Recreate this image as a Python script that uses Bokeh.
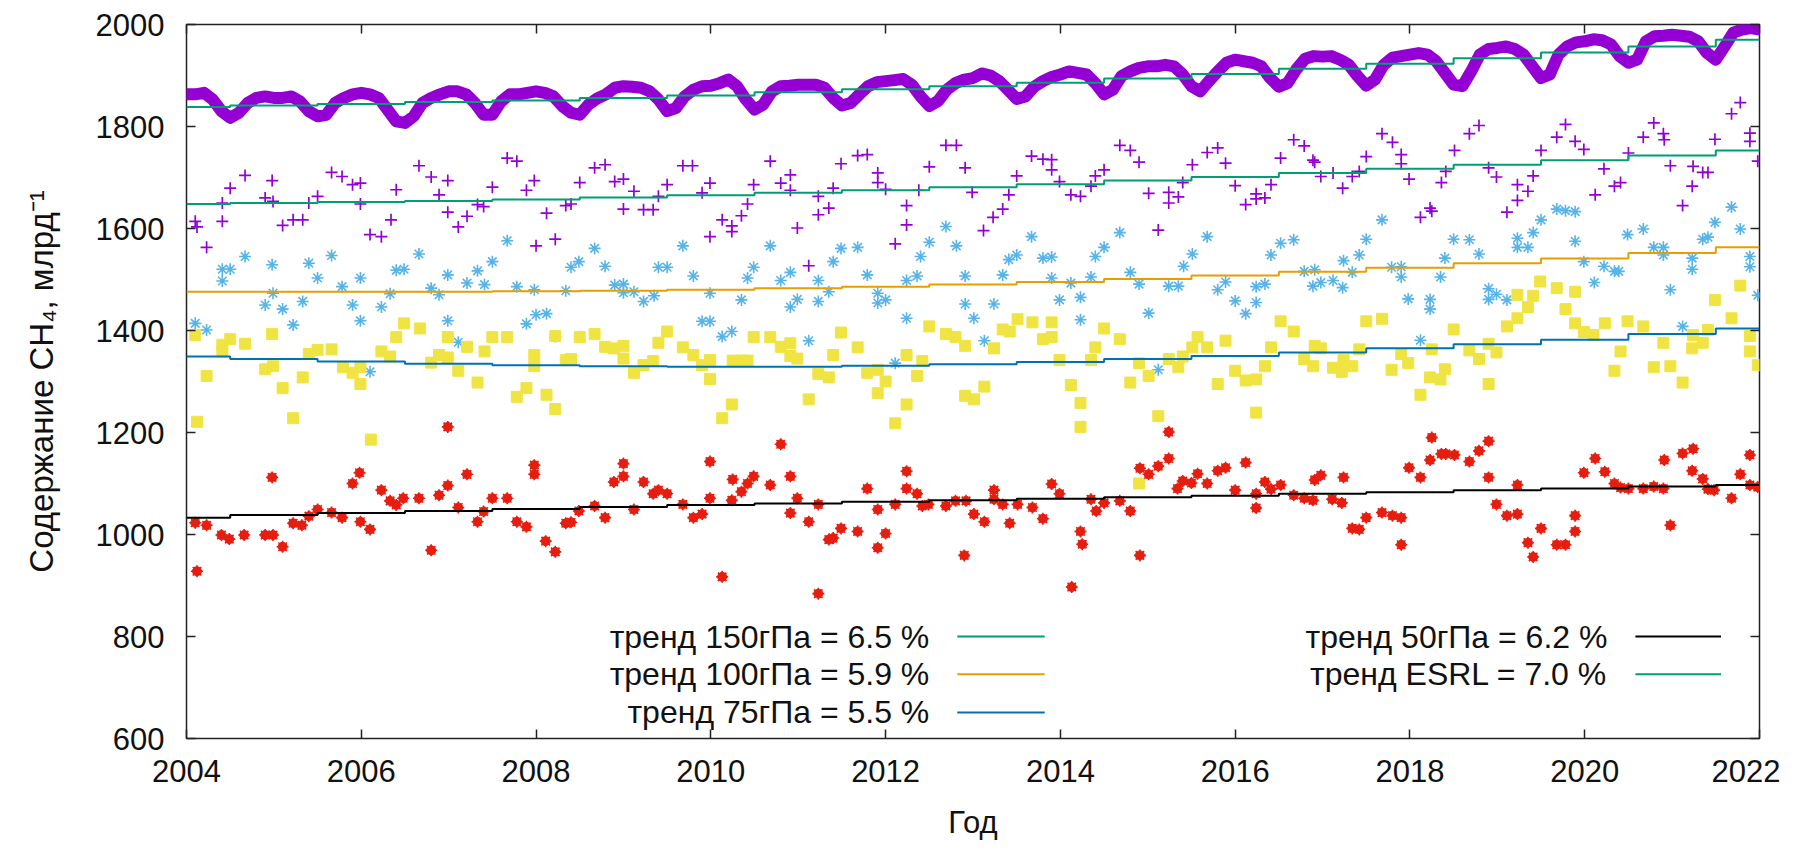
from bokeh.plotting import figure
from bokeh.models import LinearAxis, FixedTicker, Range1d
from bokeh.core.properties import value
from bokeh.embed import file_html
from bokeh.resources import INLINE

FONT = "Liberation Sans"

# ---------------- data ----------------
# ESRL surface CH4 (thick purple band)
esrl_year = [2004 + i / 10 for i in range(181)]
esrl_val = [
    1863, 1863, 1866, 1853, 1830, 1817, 1827, 1846, 1856, 1859,
    1856, 1856, 1859, 1849, 1830, 1820, 1823, 1846, 1856, 1863,
    1866, 1863, 1856, 1833, 1810, 1807, 1820, 1846, 1856, 1863,
    1869, 1869, 1863, 1846, 1823, 1823, 1849, 1863, 1863, 1866,
    1869, 1866, 1859, 1840, 1827, 1823, 1843, 1855, 1863, 1876,
    1879, 1878, 1876, 1869, 1853, 1830, 1836, 1859, 1872, 1879,
    1880, 1885, 1892, 1879, 1853, 1833, 1843, 1869, 1879, 1880,
    1882, 1882, 1882, 1876, 1856, 1841, 1846, 1863, 1879, 1887,
    1889, 1891, 1893, 1882, 1859, 1840, 1850, 1872, 1885, 1892,
    1895, 1904, 1900, 1889, 1872, 1854, 1859, 1878, 1889, 1897,
    1902, 1908, 1905, 1902, 1885, 1863, 1872, 1899, 1908, 1915,
    1918, 1918, 1921, 1918, 1902, 1879, 1869, 1889, 1908, 1925,
    1931, 1928, 1925, 1918, 1895, 1878, 1885, 1912, 1933, 1938,
    1937, 1938, 1931, 1921, 1899, 1880, 1892, 1921, 1935, 1938,
    1941, 1944, 1941, 1928, 1905, 1882, 1879, 1908, 1941, 1952,
    1954, 1957, 1952, 1941, 1918, 1895, 1902, 1941, 1957, 1965,
    1967, 1971, 1969, 1961, 1938, 1925, 1931, 1967, 1977, 1978,
    1980, 1978, 1976, 1967, 1944, 1931, 1957, 1984, 1990, 1993,
    1990,
]

# 150 hPa (purple +)
t150 = [2004.10, 2004.12, 2004.23, 2004.41, 2004.41, 2004.50, 2004.67, 2004.90, 2004.98, 2004.99,
        2005.10, 2005.22, 2005.33, 2005.40, 2005.50, 2005.66, 2005.78, 2005.90, 2005.99, 2005.99,
        2006.10, 2006.23, 2006.34, 2006.40, 2006.66, 2006.80, 2006.89, 2006.99, 2006.99,
        2007.11, 2007.21, 2007.33, 2007.40, 2007.50, 2007.67, 2007.78, 2007.89, 2007.98,
        2008.00, 2008.12, 2008.22, 2008.34, 2008.40, 2008.50, 2008.67, 2008.79, 2008.90,
        2009.00, 2009.00, 2009.12, 2009.23, 2009.34, 2009.40, 2009.50, 2009.68, 2009.79, 2009.90, 2009.99, 2009.99,
        2010.13, 2010.24, 2010.24, 2010.35, 2010.42, 2010.49, 2010.68, 2010.80, 2010.91, 2010.91, 2010.99,
        2011.12, 2011.23, 2011.23, 2011.35, 2011.40, 2011.49, 2011.68, 2011.79, 2011.91, 2011.91,
        2012.00, 2012.11, 2012.24, 2012.24, 2012.38, 2012.50, 2012.69, 2012.81, 2012.91, 2012.99,
        2013.12, 2013.23, 2013.34, 2013.41, 2013.50, 2013.67, 2013.80, 2013.90, 2013.90, 2013.99,
        2014.12, 2014.23, 2014.35, 2014.40, 2014.50, 2014.68, 2014.80, 2014.90,
        2015.01, 2015.12, 2015.24, 2015.24, 2015.35, 2015.40, 2015.51, 2015.68, 2015.80, 2015.89,
        2016.00, 2016.12, 2016.24, 2016.24, 2016.34, 2016.41, 2016.52, 2016.67, 2016.79, 2016.89, 2016.91, 2016.98,
        2017.12, 2017.23, 2017.34, 2017.42, 2017.50, 2017.68, 2017.80, 2017.90, 2017.90, 2017.99,
        2018.12, 2018.23, 2018.25, 2018.36, 2018.41, 2018.51, 2018.68, 2018.79, 2018.90, 2018.99,
        2019.11, 2019.23, 2019.23, 2019.35, 2019.41, 2019.50, 2019.68, 2019.78, 2019.89, 2019.99,
        2020.12, 2020.22, 2020.34, 2020.41, 2020.50, 2020.67, 2020.79, 2020.90, 2020.91, 2020.98,
        2021.12, 2021.23, 2021.24, 2021.35, 2021.41, 2021.49, 2021.68, 2021.78, 2021.89, 2021.89, 2021.98]
v150 = [1614, 1603, 1563, 1650, 1614, 1679, 1704, 1660, 1694, 1653,
        1606, 1617, 1617, 1650, 1663, 1710, 1702, 1686, 1689, 1648,
        1588, 1584, 1617, 1676, 1723, 1701, 1666, 1694, 1632,
        1603, 1624, 1647, 1643, 1681, 1738, 1732, 1675, 1694,
        1566, 1630, 1579, 1645, 1648, 1690, 1719, 1725, 1692,
        1697, 1638, 1673, 1637, 1637, 1663, 1686, 1723, 1723, 1670, 1689, 1584,
        1617, 1605, 1594, 1625, 1648, 1686, 1732, 1689, 1705, 1675, 1601,
        1527, 1663, 1627, 1640, 1679, 1727, 1743, 1745, 1709, 1690,
        1677, 1570, 1607, 1645, 1675, 1721, 1763, 1763, 1719, 1671,
        1596, 1622, 1638, 1666, 1703, 1742, 1736, 1735, 1715, 1692,
        1666, 1663, 1683, 1703, 1715, 1763, 1753, 1730,
        1669, 1597, 1671, 1650, 1662, 1690, 1725, 1749, 1758, 1728,
        1684, 1647, 1658, 1668, 1660, 1686, 1738, 1774, 1762, 1734, 1730, 1702,
        1709, 1679, 1702, 1712, 1741, 1786, 1769, 1745, 1727, 1697,
        1622, 1640, 1634, 1690, 1712, 1753, 1786, 1802, 1719, 1701,
        1632, 1655, 1686, 1673, 1703, 1753, 1779, 1804, 1771, 1755,
        1666, 1717, 1683, 1690, 1748, 1779, 1807, 1786, 1774, 1723,
        1645, 1683, 1722, 1710, 1710, 1775, 1825, 1847, 1787, 1771, 1732]

# 100 hPa (sky-blue *)
t100 = [2004.10, 2004.23, 2004.41, 2004.41, 2004.50, 2004.67, 2004.90, 2004.98, 2004.99,
        2005.10, 2005.22, 2005.33, 2005.40, 2005.50, 2005.66, 2005.78, 2005.90, 2005.99, 2005.99,
        2006.10, 2006.23, 2006.33, 2006.40, 2006.49, 2006.66, 2006.80, 2006.89, 2006.99, 2006.99,
        2007.11, 2007.21, 2007.33, 2007.41, 2007.50, 2007.67, 2007.78, 2007.89, 2007.98,
        2008.00, 2008.12, 2008.22, 2008.34, 2008.40, 2008.49, 2008.67, 2008.79, 2008.90,
        2009.00, 2009.00, 2009.12, 2009.23, 2009.35, 2009.40, 2009.50, 2009.68, 2009.80, 2009.90, 2009.99, 2009.99,
        2010.13, 2010.24, 2010.35, 2010.42, 2010.49, 2010.68, 2010.80, 2010.91, 2010.91, 2010.99,
        2011.12, 2011.23, 2011.23, 2011.35, 2011.40, 2011.49, 2011.68, 2011.79, 2011.91, 2011.91,
        2012.00, 2012.11, 2012.24, 2012.24, 2012.36, 2012.40, 2012.50, 2012.69, 2012.81, 2012.91, 2012.91,
        2013.01, 2013.13, 2013.24, 2013.34, 2013.41, 2013.50, 2013.67, 2013.80, 2013.90, 2013.90, 2013.99,
        2014.12, 2014.23, 2014.23, 2014.35, 2014.40, 2014.50, 2014.68, 2014.80, 2014.90,
        2015.01, 2015.12, 2015.24, 2015.35, 2015.41, 2015.51, 2015.68, 2015.80, 2015.89,
        2016.00, 2016.12, 2016.24, 2016.24, 2016.34, 2016.41, 2016.52, 2016.67, 2016.79, 2016.89, 2016.91, 2016.98,
        2017.12, 2017.23, 2017.24, 2017.34, 2017.42, 2017.50, 2017.68, 2017.79, 2017.90, 2017.90, 2017.98,
        2018.12, 2018.23, 2018.23, 2018.35, 2018.40, 2018.50, 2018.68, 2018.79, 2018.90, 2018.90, 2018.99,
        2019.11, 2019.23, 2019.23, 2019.35, 2019.41, 2019.50, 2019.68, 2019.78, 2019.89, 2019.89, 2019.99,
        2020.11, 2020.22, 2020.34, 2020.39, 2020.49, 2020.67, 2020.79, 2020.90, 2020.90, 2020.98,
        2021.12, 2021.23, 2021.23, 2021.35, 2021.41, 2021.49, 2021.68, 2021.78, 2021.89, 2021.89, 2021.98]
v100 = [1414, 1401, 1520, 1497, 1520, 1545, 1450, 1529, 1473,
        1442, 1411, 1457, 1532, 1503, 1547, 1486, 1450, 1503, 1419,
        1319, 1446, 1472, 1518, 1520, 1550, 1483, 1470, 1509, 1419,
        1377, 1493, 1517, 1490, 1535, 1576, 1486, 1413, 1480,
        1431, 1433, 1388, 1478, 1524, 1535, 1561, 1526, 1489,
        1491, 1474, 1476, 1457, 1468, 1524, 1524, 1566, 1507, 1418, 1473, 1418,
        1388, 1398, 1460, 1503, 1524, 1566, 1498, 1514, 1446, 1461,
        1380, 1498, 1457, 1476, 1535, 1561, 1563, 1509, 1473, 1454,
        1460, 1336, 1498, 1424, 1507, 1545, 1573, 1604, 1566, 1507, 1452,
        1424, 1380, 1452, 1509, 1539, 1548, 1584, 1542, 1544, 1503, 1460,
        1493, 1465, 1421, 1505, 1545, 1563, 1592, 1514, 1491,
        1434, 1323, 1487, 1487, 1526, 1550, 1584, 1480, 1495,
        1458, 1433, 1486, 1455, 1491, 1548, 1571, 1578, 1516, 1487, 1519, 1494,
        1498, 1484, 1537, 1514, 1548, 1579, 1617, 1524, 1525, 1505, 1462,
        1381, 1461, 1442, 1505, 1542, 1579, 1578, 1550, 1482, 1461, 1471,
        1460, 1581, 1563, 1563, 1592, 1617, 1638, 1635, 1633, 1575, 1535,
        1494, 1526, 1516, 1516, 1588, 1599, 1563, 1563, 1548, 1480,
        1408, 1542, 1520, 1579, 1583, 1612, 1642, 1599, 1545, 1525, 1469]

# 75 hPa (yellow squares)
t75 = [2004.10, 2004.12, 2004.23, 2004.41, 2004.41, 2004.50, 2004.67, 2004.90, 2004.98, 2004.99,
       2005.10, 2005.22, 2005.33, 2005.40, 2005.50, 2005.66, 2005.79, 2005.90, 2005.99, 2005.99,
       2006.11, 2006.23, 2006.33, 2006.40, 2006.49, 2006.67, 2006.80, 2006.89, 2006.99, 2006.99,
       2007.11, 2007.21, 2007.33, 2007.41, 2007.50, 2007.67, 2007.78, 2007.89, 2007.98, 2007.98,
       2008.12, 2008.22, 2008.22, 2008.34, 2008.40, 2008.50, 2008.67, 2008.79, 2008.89,
       2009.00, 2009.00, 2009.12, 2009.23, 2009.34, 2009.40, 2009.50, 2009.68, 2009.80, 2009.90, 2009.99, 2009.99,
       2010.13, 2010.24, 2010.25, 2010.35, 2010.42, 2010.49, 2010.68, 2010.80, 2010.91, 2010.91, 2010.99,
       2011.12, 2011.23, 2011.35, 2011.40, 2011.49, 2011.68, 2011.79, 2011.91, 2011.91,
       2012.00, 2012.11, 2012.24, 2012.24, 2012.36, 2012.42, 2012.50, 2012.69, 2012.80, 2012.91, 2012.91,
       2013.01, 2013.13, 2013.24, 2013.34, 2013.42, 2013.51, 2013.68, 2013.80, 2013.90, 2013.90, 2013.99,
       2014.12, 2014.23, 2014.23, 2014.35, 2014.40, 2014.50, 2014.68, 2014.80, 2014.90, 2014.90,
       2015.01, 2015.12, 2015.24, 2015.35, 2015.40, 2015.51, 2015.57, 2015.68, 2015.80, 2015.89,
       2016.00, 2016.12, 2016.24, 2016.24, 2016.34, 2016.41, 2016.52, 2016.67, 2016.79, 2016.89, 2016.91, 2016.98,
       2017.12, 2017.22, 2017.24, 2017.34, 2017.42, 2017.50, 2017.68, 2017.79, 2017.90, 2017.98,
       2018.12, 2018.23, 2018.25, 2018.35, 2018.40, 2018.50, 2018.68, 2018.79, 2018.90, 2018.90, 2018.99,
       2019.11, 2019.23, 2019.23, 2019.35, 2019.41, 2019.49, 2019.68, 2019.78, 2019.89, 2019.89, 2019.99,
       2020.10, 2020.23, 2020.34, 2020.41, 2020.49, 2020.67, 2020.79, 2020.90, 2020.98,
       2021.12, 2021.23, 2021.24, 2021.35, 2021.41, 2021.49, 2021.68, 2021.78, 2021.89, 2021.89, 2021.98]
v75 = [1391, 1221, 1311, 1372, 1359, 1383, 1374, 1324, 1393, 1330,
       1287, 1228, 1308, 1354, 1362, 1363, 1328, 1317, 1328, 1295,
       1186, 1359, 1349, 1387, 1414, 1404, 1337, 1352, 1387, 1347,
       1321, 1368, 1298, 1359, 1387, 1387, 1270, 1287, 1352, 1330,
       1274, 1246, 1389, 1342, 1344, 1387, 1393, 1368, 1365,
       1370, 1345, 1317, 1332, 1340, 1376, 1398, 1367, 1352, 1332, 1342, 1305,
       1228, 1255, 1341, 1341, 1341, 1387, 1387, 1368, 1375, 1350, 1345,
       1265, 1315, 1308, 1352, 1396, 1367, 1317, 1277, 1323,
       1300, 1218, 1352, 1255, 1311, 1340, 1408, 1393, 1387, 1370, 1272,
       1265, 1290, 1365, 1402, 1398, 1422, 1416, 1383, 1416, 1387, 1342,
       1293, 1258, 1211, 1342, 1367, 1404, 1383, 1298, 1336, 1100,
       1311, 1232, 1344, 1328, 1349, 1367, 1387, 1367, 1295, 1380,
       1321, 1302, 1304, 1239, 1330, 1367, 1418, 1398, 1344, 1330, 1370, 1365,
       1327, 1319, 1342, 1330, 1363, 1418, 1423, 1323, 1354, 1336,
       1274, 1308, 1363, 1304, 1324, 1402, 1361, 1344, 1374, 1295, 1357,
       1408, 1424, 1470, 1446, 1468, 1496, 1483, 1442, 1414, 1476, 1397,
       1391, 1414, 1321, 1359, 1418, 1408, 1328, 1376, 1330,
       1298, 1365, 1391, 1376, 1401, 1460, 1424, 1488, 1389, 1359, 1332]

# 50 hPa (red dots)
t50 = [2004.10, 2004.12, 2004.23, 2004.40, 2004.49, 2004.66, 2004.90, 2004.98, 2004.99,
       2005.10, 2005.22, 2005.32, 2005.40, 2005.50, 2005.66, 2005.78, 2005.90, 2005.98, 2005.99,
       2006.10, 2006.23, 2006.33, 2006.40, 2006.48, 2006.66, 2006.80, 2006.89, 2006.99, 2006.99,
       2007.11, 2007.21, 2007.33, 2007.40, 2007.50, 2007.67, 2007.78, 2007.89, 2007.98, 2007.98,
       2008.11, 2008.22, 2008.34, 2008.40, 2008.49, 2008.67, 2008.79, 2008.89,
       2009.00, 2009.00, 2009.12, 2009.23, 2009.34, 2009.40, 2009.50, 2009.68, 2009.80, 2009.90, 2009.99, 2009.99,
       2010.13, 2010.24, 2010.25, 2010.35, 2010.42, 2010.49, 2010.68, 2010.80, 2010.91, 2010.91, 2010.99,
       2011.12, 2011.23, 2011.23, 2011.35, 2011.40, 2011.49, 2011.68, 2011.79, 2011.91, 2011.91,
       2012.00, 2012.11, 2012.24, 2012.24, 2012.36, 2012.42, 2012.49, 2012.69, 2012.80, 2012.90, 2012.92,
       2013.01, 2013.13, 2013.24, 2013.24, 2013.34, 2013.42, 2013.51, 2013.68, 2013.80, 2013.90, 2013.99,
       2014.13, 2014.23, 2014.25, 2014.35, 2014.41, 2014.50, 2014.68, 2014.80, 2014.91, 2014.91,
       2015.01, 2015.12, 2015.24, 2015.24, 2015.34, 2015.40, 2015.50, 2015.57, 2015.68, 2015.80, 2015.89,
       2016.00, 2016.12, 2016.24, 2016.24, 2016.34, 2016.41, 2016.52, 2016.67, 2016.79, 2016.89, 2016.91, 2016.98,
       2017.11, 2017.22, 2017.24, 2017.34, 2017.42, 2017.50, 2017.68, 2017.80, 2017.90, 2017.90, 2017.99,
       2018.12, 2018.23, 2018.25, 2018.36, 2018.41, 2018.51, 2018.68, 2018.79, 2018.90, 2018.90, 2018.99,
       2019.11, 2019.23, 2019.23, 2019.35, 2019.41, 2019.50, 2019.68, 2019.78, 2019.89, 2019.89, 2019.99,
       2020.12, 2020.23, 2020.34, 2020.41, 2020.50, 2020.67, 2020.79, 2020.90, 2020.91, 2020.98,
       2021.12, 2021.23, 2021.24, 2021.35, 2021.41, 2021.48, 2021.68, 2021.78, 2021.89, 2021.89, 2021.98]
v50 = [1023, 928, 1018, 999, 991, 999, 999, 1112, 999,
       976, 1022, 1018, 1036, 1049, 1043, 1033, 1100, 1121, 1025,
       1010, 1087, 1066, 1058, 1071, 1071, 969, 1077, 1096, 1211,
       1053, 1118, 1025, 1045, 1071, 1071, 1025, 1015, 1136, 1118,
       987, 966, 1022, 1024, 1046, 1056, 1033, 1103,
       1139, 1114, 1049, 1103, 1080, 1087, 1080, 1059, 1033, 1040, 1143, 1071,
       917, 1067, 1108, 1084, 1100, 1114, 1097, 1177, 1114, 1042, 1071,
       1025, 1059, 884, 990, 993, 1012, 1006, 1090, 1049, 974,
       1002, 1059, 1124, 1090, 1080, 1056, 1059, 1056, 1066, 959, 1066,
       1040, 1025, 1087, 1069, 1059, 1022, 1059, 1053, 1031, 1099, 1080,
       897, 1006, 981, 1069, 1046, 1062, 1066, 1046, 1130, 959,
       1118, 1134, 1201, 1149, 1090, 1105, 1101, 1119, 1100, 1125, 1131,
       1087, 1141, 1080, 1052, 1103, 1089, 1097, 1077, 1071, 1067, 1107, 1116,
       1069, 1062, 1112, 1012, 1010, 1033, 1043, 1037, 1033, 980, 1131,
       1112, 1146, 1190, 1158, 1158, 1156, 1143, 1164, 1183, 1112, 1059,
       1037, 1040, 1097, 984, 956, 1012, 980, 980, 1006, 1037, 1121,
       1149, 1123, 1100, 1092, 1090, 1090, 1094, 1090, 1146, 1018,
       1159, 1125, 1168, 1109, 1089, 1087, 1071, 1118, 1156, 1097, 1093]

# trend lines (yearly values)
trend_year = list(range(2004, 2023))
trend150 = [1648, 1650, 1652, 1654, 1657, 1661, 1665, 1670, 1675, 1681, 1687, 1694, 1701, 1709, 1717, 1725, 1734, 1743, 1753]
trend100 = [1476, 1476, 1476, 1476, 1477, 1478, 1480, 1483, 1486, 1490, 1495, 1501, 1508, 1515, 1523, 1532, 1541, 1552, 1563]
trend75 = [1349, 1344, 1339, 1335, 1332, 1330, 1329, 1329, 1331, 1334, 1338, 1344, 1350, 1357, 1365, 1373, 1382, 1393, 1404]
trend50 = [1033, 1038, 1042, 1046, 1050, 1054, 1058, 1061, 1064, 1067, 1070, 1073, 1076, 1080, 1083, 1087, 1090, 1094, 1097]
trend_esrl = [1838, 1841, 1844, 1848, 1851, 1856, 1861, 1867, 1873, 1879, 1886, 1894, 1903, 1913, 1923, 1934, 1945, 1957, 1970]

legend_labels_left = ["тренд 150гПа = 6.5 %", "тренд 100гПа = 5.9 %", "тренд 75гПа = 5.5 %"]
legend_labels_right = ["тренд 50гПа = 6.2 %", "тренд ESRL = 7.0 %"]

x_ticks = list(range(2004, 2023, 2))
y_ticks = list(range(600, 2001, 200))

# ---------------- colours ----------------
C_PURPLE = "#9400D3"
C_GREEN = "#009E73"
C_SKY = "#56B4E9"
C_ORANGE = "#E69F00"
C_YELLOW = "#F0E442"
C_BLUE = "#0072B2"
C_RED = "#E51E10"
C_BLACK = "#000000"

# ---------------- figure ----------------
p = figure(width=1780, height=842, x_range=Range1d(2004, 2022), y_range=Range1d(600, 2000),
           output_backend="svg", toolbar_location=None,
           min_border_left=186, min_border_right=21, min_border_top=24, min_border_bottom=100)
p.background_fill_color = "white"
p.border_fill_color = "white"
p.outline_line_color = "#222222"
p.outline_line_width = 1.5
p.xgrid.visible = False
p.ygrid.visible = False

p.xaxis.ticker = FixedTicker(ticks=x_ticks)
p.yaxis.ticker = FixedTicker(ticks=y_ticks)
for ax in (p.xaxis[0], p.yaxis[0]):
    ax.axis_line_color = None
    ax.major_tick_in = 9
    ax.major_tick_out = 0
    ax.major_tick_line_color = "#222222"
    ax.major_tick_line_width = 1.5
    ax.minor_tick_line_color = None
    ax.major_label_text_font = FONT
    ax.major_label_text_font_size = "31px"
    ax.major_label_text_color = "#111111"
    ax.axis_label_text_font = FONT
    ax.axis_label_text_font_style = "normal"
    ax.axis_label_text_color = "#111111"
p.xaxis.axis_label_text_font_size = "31px"
p.yaxis.axis_label_text_font_size = "33px"
p.xaxis.major_label_standoff = 21
p.yaxis.major_label_standoff = 22
p.xaxis.axis_label = "Год"
p.yaxis.axis_label = "Содержание CH₄, млрд⁻¹"
p.xaxis.axis_label_standoff = 20
p.yaxis.axis_label_standoff = 33

# mirrored tick marks on top and right (no labels)
for loc in ("above", "right"):
    ax = LinearAxis(ticker=FixedTicker(ticks=x_ticks if loc == "above" else y_ticks))
    ax.axis_line_color = None
    ax.major_tick_in = 9
    ax.major_tick_out = 0
    ax.major_tick_line_color = "#222222"
    ax.major_tick_line_width = 1.5
    ax.minor_tick_line_color = None
    ax.major_label_text_color = None
    ax.major_label_text_font_size = "1px"
    ax.major_label_standoff = 0
    p.add_layout(ax, loc)

# ESRL band
p.line(esrl_year, esrl_val, line_width=12, line_color=C_PURPLE, line_join="round", line_cap="round")

# station series
p.scatter(t150, v150, marker="cross", size=12, line_width=1.7, line_color=C_PURPLE)
p.scatter(t100, v100, marker="asterisk", size=12, line_width=1.6, line_color=C_SKY)
p.scatter(t75, v75, marker="square", size=11, fill_color=C_YELLOW, line_color=C_YELLOW, line_width=1)
p.scatter(t50, v50, marker="circle", size=9, fill_color=C_RED, line_color=C_RED, line_width=1)
p.scatter(t50, v50, marker="asterisk", size=12, line_color=C_RED, line_width=1.6)

# trends (annual staircase)
p.step(trend_year, trend150, mode="center", line_width=2, line_color=C_GREEN)
p.step(trend_year, trend100, mode="center", line_width=2, line_color=C_ORANGE)
p.step(trend_year, trend75, mode="center", line_width=2, line_color=C_BLUE)
p.step(trend_year, trend50, mode="center", line_width=2, line_color=C_BLACK)
p.step(trend_year, trend_esrl, mode="center", line_width=2, line_color=C_GREEN)

# legend (text on the left, sample line on the right, like gnuplot)
rows_y = [800, 726, 651]
left_cols = dict(text_x=2012.50, l0=2012.82, l1=2013.82)
right_cols = dict(text_x=2020.26, l0=2020.58, l1=2021.56)
left_colors = [C_GREEN, C_ORANGE, C_BLUE]
right_colors = [C_BLACK, C_GREEN]

p.text(x=[left_cols["text_x"]] * 3, y=rows_y, text=legend_labels_left,
       text_font=value(FONT), text_font_size=value("32px"), text_color="#111111",
       text_align="right", text_baseline="middle")
p.segment(x0=[left_cols["l0"]] * 3, y0=rows_y, x1=[left_cols["l1"]] * 3, y1=rows_y,
          line_color=left_colors, line_width=2)
p.text(x=[right_cols["text_x"]] * 2, y=rows_y[:2], text=legend_labels_right,
       text_font=value(FONT), text_font_size=value("32px"), text_color="#111111",
       text_align="right", text_baseline="middle")
p.segment(x0=[right_cols["l0"]] * 2, y0=rows_y[:2], x1=[right_cols["l1"]] * 2, y1=rows_y[:2],
          line_color=right_colors, line_width=2)

open("out.html", "w").write(file_html(p, INLINE))
